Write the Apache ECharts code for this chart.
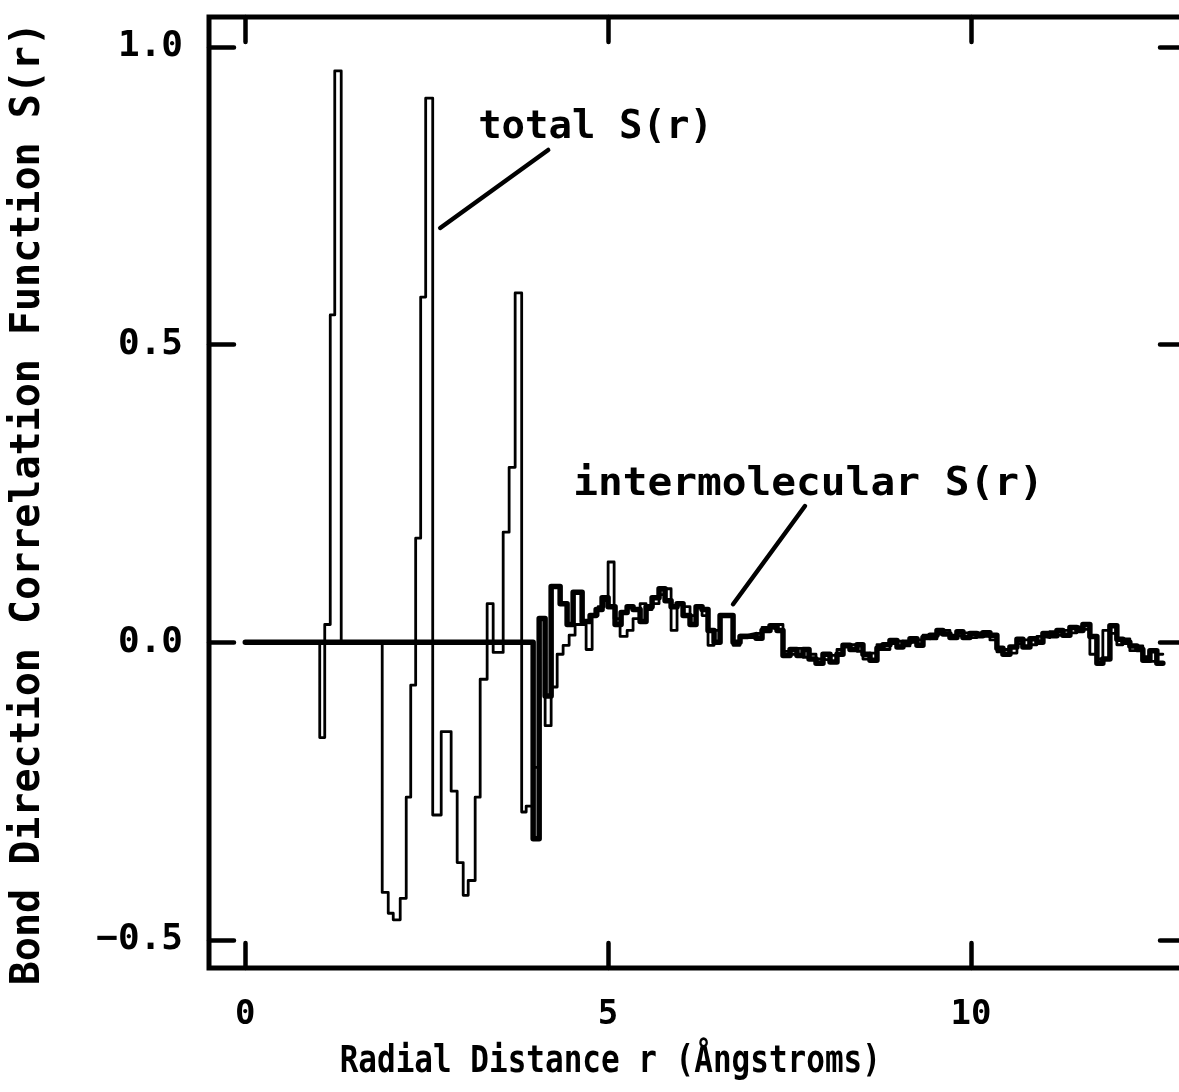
<!DOCTYPE html>
<html>
<head>
<meta charset="utf-8">
<title>Bond Direction Correlation Function</title>
<script src="https://cdn.jsdelivr.net/npm/echarts@6/dist/echarts.min.js"></script>
<style>
  html, body { margin: 0; padding: 0; background: #fff; }
  #chart { width: 1179px; height: 1092px; }
</style>
</head>
<body>
<div id="chart"></div>
<script>
// Histogram bins: left edge r (Å) and S(r) for each bin.
const totalR = [0.000, 1.026, 1.095, 1.171, 1.233, 1.322, 1.887, 1.970, 2.039, 2.135,
  2.218, 2.280, 2.348, 2.417, 2.486, 2.583, 2.700, 2.837, 2.920, 3.003,
  3.072, 3.168, 3.237, 3.333, 3.416, 3.554, 3.636, 3.719, 3.809, 3.871,
  3.967, 4.050, 4.132, 4.215, 4.298, 4.380, 4.463, 4.545, 4.697, 4.780,
  4.862, 4.945, 5.000, 5.083, 5.165, 5.262, 5.344, 5.441, 5.523, 5.606,
  5.702, 5.785, 5.868, 5.950, 6.033, 6.129, 6.212, 6.295, 6.377, 6.460,
  6.543, 6.722];
const totalS = [0, -0.16, 0.03, 0.55, 0.96, 0, -0.42, -0.455, -0.466, -0.43,
  -0.26, -0.072, 0.175, 0.58, 0.914, -0.29, -0.15, -0.25, -0.37, -0.425,
  -0.40, -0.26, -0.062, 0.065, -0.017, 0.185, 0.294, 0.587, -0.285, -0.275,
  -0.21, 0.04, -0.14, -0.075, -0.02, -0.005, 0.012, 0.03, -0.012, 0.045,
  0.06, 0.07, 0.135, 0.04, 0.01, 0.02, 0.04, 0.065, 0.055, 0.065,
  0.08, 0.09, 0.02, 0.065, 0.06, 0.045, 0.06, 0.045, -0.005, 0.02,
  0.045, -0.005];

const interR = [0.000, 3.967, 4.050, 4.132, 4.215, 4.339, 4.435, 4.518, 4.642, 4.752,
  4.835, 4.917, 5.000, 5.096, 5.179, 5.262, 5.344, 5.441, 5.523, 5.606,
  5.702, 5.785, 5.868, 5.950, 6.033, 6.129, 6.212, 6.295, 6.377, 6.460,
  6.543, 6.722];
const interS = [0, -0.33, 0.04, -0.09, 0.094, 0.065, 0.03, 0.084, 0.035, 0.045,
  0.055, 0.075, 0.06, 0.03, 0.05, 0.06, 0.055, 0.035, 0.06, 0.075,
  0.09, 0.07, 0.06, 0.065, 0.045, 0.03, 0.06, 0.055, 0.02, 0.0,
  0.045, 0.0];

// Long-range tail, where both curves share the same bins.
const tailR = [6.818, 6.928, 7.039, 7.121, 7.231, 7.328, 7.410, 7.507, 7.603, 7.686,
  7.769, 7.865, 7.961, 8.058, 8.154, 8.237, 8.333, 8.430, 8.512, 8.609,
  8.705, 8.788, 8.884, 8.981, 9.063, 9.160, 9.256, 9.339, 9.435, 9.532,
  9.614, 9.711, 9.807, 9.890, 9.986, 10.083, 10.165, 10.262, 10.358, 10.441,
  10.537, 10.634, 10.716, 10.813, 10.909, 10.992, 11.088, 11.185, 11.267, 11.364,
  11.460, 11.543, 11.639, 11.736, 11.818, 11.915, 12.011, 12.094, 12.190, 12.287,
  12.369, 12.466, 12.562];
const tailInter = [0.010, 0.013, 0.007, 0.020, 0.028, 0.020, -0.022, -0.012, -0.022, -0.012,
  -0.028, -0.035, -0.020, -0.033, -0.020, -0.005, -0.012, -0.004, -0.020, -0.030,
  -0.010, -0.004, 0.003, -0.008, 0.000, 0.006, -0.005, 0.008, 0.012, 0.020,
  0.014, 0.008, 0.018, 0.008, 0.015, 0.011, 0.016, 0.012, -0.010, -0.020,
  -0.008, 0.005, -0.008, 0.006, 0.000, 0.015, 0.011, 0.020, 0.012, 0.025,
  0.020, 0.030, 0.010, -0.035, -0.028, 0.028, 0.005, 0.000, -0.006, -0.012,
  -0.030, -0.014, -0.035];
const tailTotal = [0.012, 0.008, 0.015, 0.025, 0.022, 0.030, -0.015, -0.020, -0.010, -0.025,
  -0.020, -0.028, -0.030, -0.022, -0.012, -0.008, -0.004, -0.015, -0.028, -0.018,
  -0.004, -0.012, -0.002, 0.002, -0.006, 0.000, 0.004, 0.012, 0.006, 0.014,
  0.020, 0.012, 0.010, 0.016, 0.008, 0.016, 0.010, 0.004, -0.016, -0.012,
  -0.018, -0.002, 0.004, -0.004, 0.010, 0.008, 0.018, 0.012, 0.020, 0.016,
  0.026, 0.022, -0.020, -0.028, 0.020, 0.015, -0.004, 0.006, -0.014, -0.006,
  -0.024, -0.032, -0.020];
const rEnd = 12.645;

const xTicks = [0, 5, 10];
const yTicks = [-0.5, 0, 0.5, 1.0];

const xTitle = 'Radial Distance r (Ångstroms)';
const yTitle = 'Bond Direction Correlation Function S(r)';
const totalLabel = 'total S(r)';
const interLabel = 'intermolecular S(r)';

const MONO = '"DejaVu Sans Mono", "Liberation Mono", monospace';

// Turn bin edges + values into step points, closing the final bin.
function stepPoints(rs, vs) {
  const pts = rs.map((r, i) => [r, vs[i]]);
  pts.push([rEnd, vs[vs.length - 1]]);
  return pts;
}

const totalData = stepPoints(totalR.concat(tailR), totalS.concat(tailTotal));
const interData = stepPoints(interR.concat(tailR), interS.concat(tailInter));

const chart = echarts.init(document.getElementById('chart'), null, { renderer: 'canvas' });

const tickStyle = { color: '#000', width: 4.5, cap: 'round' };
const xCommon = {
  type: 'value', min: -0.5, max: 12.95,
  splitLine: { show: false },
  axisLine: { show: false, onZero: false },
  axisTick: { show: true, inside: true, length: 25, customValues: xTicks, lineStyle: tickStyle }
};
const yCommon = {
  type: 'value', min: -0.547, max: 1.0504,
  splitLine: { show: false },
  axisLine: { show: false, onZero: false },
  axisTick: { show: true, inside: true, length: 25, customValues: yTicks, lineStyle: tickStyle }
};

chart.setOption({
  animation: false,
  backgroundColor: '#fff',
  grid: {
    left: 209, top: 17, right: -6, bottom: 124,
    outerBoundsMode: 'none', containLabel: false,
    show: true, borderColor: '#000', borderWidth: 5, backgroundColor: 'transparent'
  },
  xAxis: [
    Object.assign({}, xCommon, {
      position: 'bottom',
      axisLabel: { show: true, customValues: xTicks, margin: 30,
        fontFamily: MONO, fontWeight: 'bold', fontSize: 34, color: '#000' }
    }),
    Object.assign({}, xCommon, { position: 'top', axisLabel: { show: false } })
  ],
  yAxis: [
    Object.assign({}, yCommon, {
      position: 'left',
      axisLabel: { show: true, customValues: yTicks, margin: 26,
        fontFamily: MONO, fontWeight: 'bold', fontSize: 36, color: '#000',
        formatter: v => (v < 0 ? '\u2212' + Math.abs(v).toFixed(1) : v.toFixed(1)) }
    }),
    Object.assign({}, yCommon, { position: 'right', axisLabel: { show: false } })
  ],
  series: [
    {
      name: 'intermolecular S(r)', type: 'line', step: 'end',
      data: interData, showSymbol: false, symbol: 'none',
      lineStyle: { color: '#000', width: 5.5, join: 'round', cap: 'round' },
      z: 3,
      markLine: {
        silent: true, symbol: 'none',
        label: { show: false },
        lineStyle: { color: '#000', width: 4.5, type: 'solid', cap: 'round' },
        data: [
          [{ coord: [4.174, 0.827] }, { coord: [2.686, 0.696] }],
          [{ coord: [7.713, 0.229] }, { coord: [6.722, 0.064] }]
        ]
      }
    },
    {
      name: 'total S(r)', type: 'line', step: 'end',
      data: totalData, showSymbol: false, symbol: 'none',
      lineStyle: { color: '#000', width: 2.8, join: 'round', cap: 'round' },
      z: 4
    }
  ]
});

// Titles and curve labels, anchored through the grid's coordinate system.
const pTotal = chart.convertToPixel({ gridIndex: 0 }, [3.209, 0.864]);
const pInter = chart.convertToPixel({ gridIndex: 0 }, [4.518, 0.264]);
const pXTitle = chart.convertToPixel({ gridIndex: 0 }, [5.03, -0.547]);
const pYMid = chart.convertToPixel({ gridIndex: 0 }, [-0.5, 0.233]);
chart.setOption({
  graphic: [
    { type: 'text', x: pTotal[0], y: pTotal[1], silent: true,
      style: { text: totalLabel, font: 'bold 39px ' + MONO, fill: '#000',
        align: 'left', verticalAlign: 'middle' } },
    { type: 'text', x: pInter[0], y: pInter[1], silent: true, scaleX: 1.055,
      style: { text: interLabel, font: 'bold 39px ' + MONO, fill: '#000',
        align: 'left', verticalAlign: 'middle' } },
    { type: 'text', x: pXTitle[0], y: pXTitle[1] + 94, silent: true, scaleY: 1.2,
      style: { text: xTitle, font: 'bold 31px ' + MONO, fill: '#000',
        align: 'center', verticalAlign: 'middle' } },
    { type: 'text', x: 29, y: pYMid[1], rotation: Math.PI / 2, silent: true,
      style: { text: yTitle, font: 'bold 40px ' + MONO, fill: '#000',
        align: 'center', verticalAlign: 'middle' } }
  ]
});
</script>
</body>
</html>
